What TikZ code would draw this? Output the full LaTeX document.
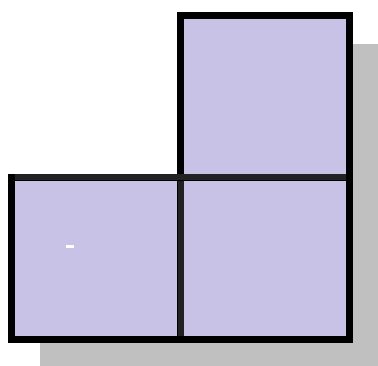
\documentclass[tikz,border=0pt]{standalone}
\usetikzlibrary{positioning,shadows}
\definecolor{cellfill}{HTML}{C8C2E6}
\definecolor{shadowgray}{HTML}{C0C0C0}
\definecolor{seam}{HTML}{222222}

\begin{document}
\begin{tikzpicture}[x=1pt, y=1pt,
  cell/.style={draw=black, line width=7pt, fill=cellfill,
    minimum width=169pt, minimum height=162pt,
    inner sep=0pt, outer sep=0pt,
    drop shadow={shadow xshift=32pt, shadow yshift=-32pt,
      fill=shadowgray, draw=shadowgray, line width=7pt, opacity=1}},
  seamline/.style={draw=seam, line width=6pt, shorten <=3.5pt, shorten >=3.5pt}]

\useasboundingbox (0,0) rectangle (378,-365);

% Cells
\node[cell] (topsq) at (265,-96) {};
\node[cell] (botleft) at (96,-258) {};
\node[cell, right=0pt of botleft] (botright) {};

% Inner seams
\draw[seamline] (botleft.north west) -- (botright.north east);
\draw[seamline] (botleft.north east) -- (botleft.south east);

% Mark
\fill[white] (66,-244.5) rectangle (74,-247.5);

\end{tikzpicture}
\end{document}
